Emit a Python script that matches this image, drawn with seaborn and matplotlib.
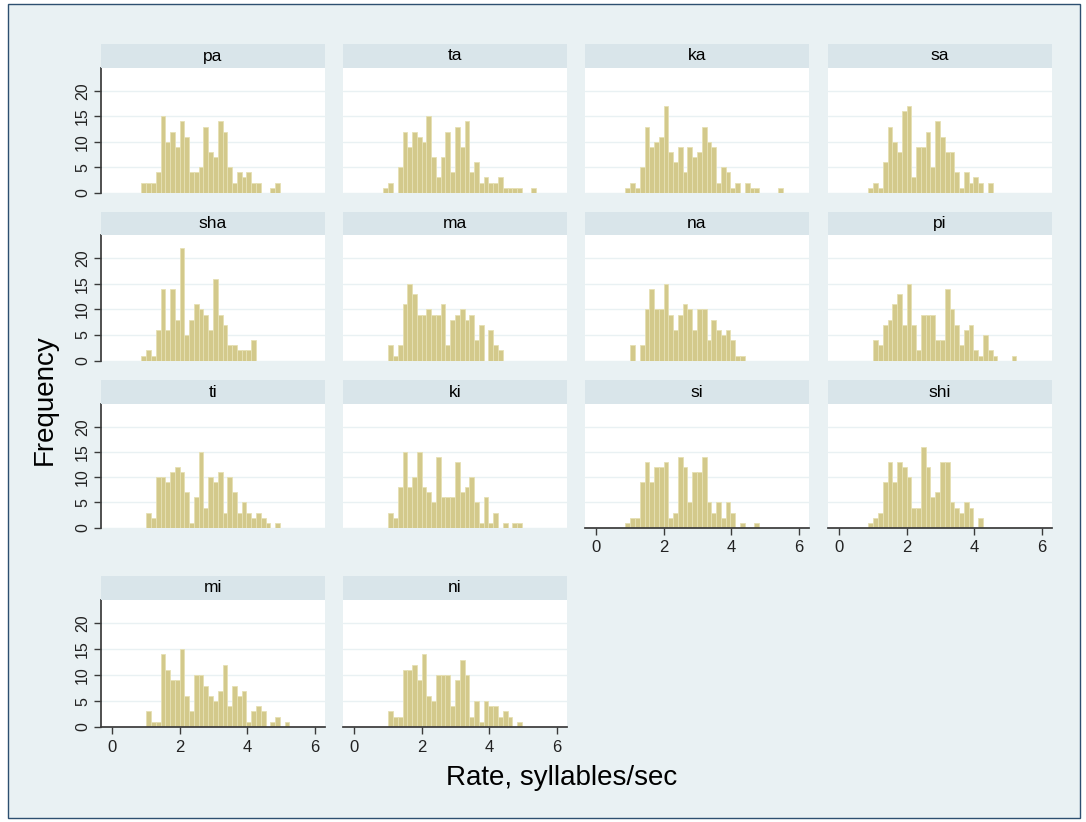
import numpy as np
import pandas as pd
import matplotlib
matplotlib.use("Agg")
import matplotlib.pyplot as plt
import seaborn as sns
from matplotlib.patches import Rectangle

# ---------------- data (counts per common bin) ----------------
BIN_START = 0.86
BIN_WIDTH = 0.1414
N_BINS = 33

syllables = ["pa", "ta", "ka", "sa", "sha", "ma", "na", "pi",
             "ti", "ki", "si", "shi", "mi", "ni"]

pa = [2, 2, 2, 4, 15, 10, 12, 9, 14, 11, 4, 4, 5, 13, 8, 7, 14, 12, 5, 2, 4, 3, 4, 2, 2, 0, 0, 1, 2]
ta = [1, 2, 0, 5, 12, 9, 12, 11, 10, 15, 7, 3, 7, 12, 4, 13, 9, 14, 4, 6, 2, 3, 2, 2, 3, 1, 1, 1, 1, 0, 0, 1]
ka = [1, 2, 1, 5, 13, 9, 10, 11, 17, 8, 6, 9, 4, 9, 7, 8, 13, 10, 9, 2, 5, 4, 1, 2, 0, 2, 1, 1, 0, 0, 0, 0, 1]
sa = [1, 2, 1, 6, 13, 10, 8, 16, 17, 3, 9, 9, 12, 5, 14, 11, 8, 8, 4, 1, 4, 2, 3, 2, 0, 2]
sha = [1, 2, 1, 6, 14, 6, 14, 8, 22, 5, 8, 11, 10, 9, 6, 16, 9, 7, 3, 3, 2, 2, 2, 4]
ma = [0, 3, 1, 3, 11, 15, 13, 9, 9, 10, 9, 9, 11, 3, 8, 9, 10, 8, 9, 4, 7, 0, 6, 3, 2]
na = [0, 3, 0, 3, 10, 14, 10, 10, 15, 9, 6, 9, 11, 10, 6, 10, 10, 4, 8, 6, 5, 6, 4, 1, 1]
pi = [0, 4, 3, 7, 8, 11, 13, 7, 15, 7, 2, 9, 9, 9, 4, 4, 14, 10, 7, 3, 6, 7, 2, 1, 5, 2, 1, 0, 0, 0, 1]
ti = [0, 3, 2, 10, 10, 9, 11, 12, 11, 7, 1, 6, 15, 4, 10, 9, 11, 3, 10, 7, 3, 5, 3, 2, 3, 2, 1, 0, 1]
ki = [0, 3, 2, 8, 15, 8, 10, 15, 8, 7, 5, 14, 6, 6, 6, 13, 7, 8, 10, 5, 1, 6, 1, 3, 0, 1, 0, 1, 1]
si = [1, 2, 2, 9, 13, 9, 12, 12, 13, 2, 3, 14, 12, 5, 11, 11, 14, 5, 3, 5, 2, 5, 3, 0, 1, 0, 0, 1]
shi = [1, 2, 3, 9, 13, 9, 13, 12, 10, 4, 4, 16, 12, 6, 7, 13, 13, 5, 4, 3, 5, 4, 0, 2]
mi = [0, 3, 1, 1, 14, 11, 9, 9, 15, 6, 3, 10, 10, 8, 6, 5, 7, 12, 4, 8, 6, 7, 1, 3, 4, 3, 0, 1, 2, 0, 1]
ni = [0, 3, 2, 2, 11, 11, 12, 9, 14, 6, 5, 10, 10, 10, 4, 9, 13, 10, 2, 5, 1, 5, 4, 4, 2, 3, 2, 0, 1]

series = dict(pa=pa, ta=ta, ka=ka, sa=sa, sha=sha, ma=ma, na=na, pi=pi,
              ti=ti, ki=ki, si=si, shi=shi, mi=mi, ni=ni)

x_ticks = [0, 2, 4, 6]
y_ticks = [0, 5, 10, 15, 20]

# ---------------- style ----------------
BG = "#E9F1F3"
STRIP = "#D9E5EA"
BAR = "#D3C98B"
BAR_EDGE = "#E6E0B4"
AXC = "#3a3a3a"

sns.set_theme(style="white")
plt.rcParams["font.family"] = ["Liberation Sans", "DejaVu Sans"]

W, H = 1086, 822
fig = plt.figure(figsize=(W / 100, H / 100), dpi=100, facecolor="white")
fig.patches.append(Rectangle((8 / W, 4 / H), (1080 - 8) / W, (818 - 4) / H,
                             transform=fig.transFigure, facecolor=BG,
                             edgecolor="#2d4f70", linewidth=1.0, zorder=-10))

cols = [(101, 325), (343, 567), (585, 809), (828, 1052)]
rows = [(44, 68, 192.7), (212, 235, 360.7), (380, 404, 527.7), (576, 600, 727)]
bottom_panels = {"si", "shi", "mi", "ni"}

edges = [float(BIN_START + BIN_WIDTH * k) for k in range(N_BINS + 1)]

for i, name in enumerate(syllables):
    r, c = divmod(i, 4)
    x0, x1 = cols[c]
    st, sb, pb = rows[r]
    ax = fig.add_axes([x0 / W, 1 - pb / H, (x1 - x0) / W, (pb - sb) / H])
    sax = fig.add_axes([x0 / W, 1 - sb / H, (x1 - x0) / W, (sb - st) / H])
    sax.set_facecolor(STRIP)
    sax.set_xticks([]); sax.set_yticks([])
    for s in sax.spines.values():
        s.set_visible(False)
    sax.text(0.5, 0.5, name, ha="center", va="center", fontsize=12.5,
             color="black", transform=sax.transAxes)

    vals = series[name]
    centers = [edges[k] + BIN_WIDTH / 2 for k in range(len(vals))]
    df = pd.DataFrame({"rate": centers, "count": vals})
    sns.histplot(data=df, x="rate", weights="count", bins=edges, ax=ax,
                 color=BAR, edgecolor=BAR_EDGE, linewidth=0.6, alpha=1.0)

    ax.set_facecolor("white")
    ax.set_xlim(-0.34, 6.30)
    ax.set_ylim(0, 24.5)
    ax.set_xlabel(""); ax.set_ylabel("")
    ax.set_yticks(y_ticks)
    ax.grid(axis="y", color=BG, linewidth=1.0)
    ax.set_axisbelow(True)
    for s in ax.spines.values():
        s.set_visible(False)

    if c == 0:
        ax.spines["left"].set_visible(True)
        ax.spines["left"].set_color(AXC)
        ax.tick_params(axis="y", left=True, length=5, width=1, color=AXC,
                       labelsize=11.5, labelcolor="#222222", pad=3)
        for lab in ax.get_yticklabels():
            lab.set_rotation(90)
            lab.set_va("center")
    else:
        ax.tick_params(axis="y", left=False, labelleft=False)

    if name in bottom_panels:
        ax.spines["bottom"].set_visible(True)
        ax.spines["bottom"].set_color(AXC)
        ax.set_xticks(x_ticks)
        ax.tick_params(axis="x", bottom=True, length=5, width=1, color=AXC,
                       labelsize=12, labelcolor="#222222", pad=4)
    else:
        ax.set_xticks([])
        ax.tick_params(axis="x", bottom=False, labelbottom=False)

fig.text(45 / W, 1 - 400 / H, "Frequency", rotation=90, ha="center",
         va="center", fontsize=20, color="black")
fig.text(562 / W, 1 - 778 / H, "Rate, syllables/sec", ha="center",
         va="center", fontsize=20, color="black")

fig.savefig("out.png", dpi=100, facecolor="white")
